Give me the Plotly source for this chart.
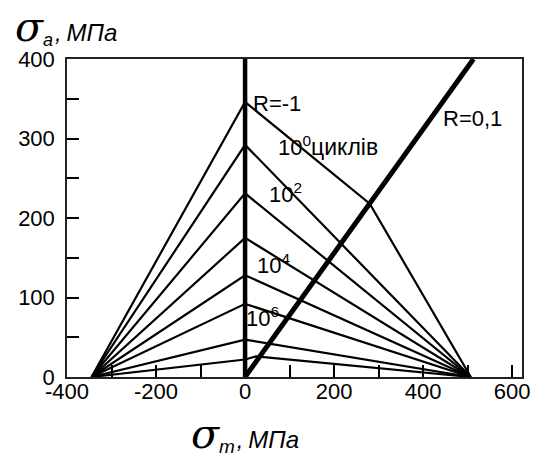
import plotly.graph_objects as go

# ---- data ----
left_zero = -345          # common left end of the thin lines (sigma_m, MPa)
right_zero = 507          # common right end of the thin lines
peaks = [346, 292, 231, 175, 128, 92, 47, 22]   # sigma_a at sigma_m = 0
# intermediate break points on the right branch (sigma_m, sigma_a) or None
kinks = [(280, 218), None, None, None, None, None, None, (25, 26)]

r_minus1_x = [0, 0]
r_minus1_y = [0, 400]
r_01_x = [0, 513]
r_01_y = [0, 400]

x_ticks = [-400, -200, 0, 200, 400, 600]
x_tick_text = ["-400", "-200", "0", "200", "400", "600"]
y_ticks = [0, 100, 200, 300, 400]
y_tick_text = ["0", "100", "200", "300", "400"]

fig = go.Figure()

for pk, kn in zip(peaks, kinks):
    xs = [left_zero, 0]
    ys = [0, pk]
    if kn is not None:
        xs.append(kn[0])
        ys.append(kn[1])
    xs.append(right_zero)
    ys.append(0)
    fig.add_trace(go.Scatter(x=xs, y=ys, mode="lines",
                             line=dict(color="black", width=2.2),
                             showlegend=False, hoverinfo="skip"))

fig.add_trace(go.Scatter(x=r_minus1_x, y=r_minus1_y, mode="lines",
                         line=dict(color="black", width=4.5),
                         showlegend=False, hoverinfo="skip", cliponaxis=False))
fig.add_trace(go.Scatter(x=r_01_x, y=r_01_y, mode="lines",
                         line=dict(color="black", width=5),
                         showlegend=False, hoverinfo="skip"))

tick_font = dict(family="Liberation Sans, Arial, sans-serif", size=22, color="black")
lab_font = dict(family="Liberation Sans, Arial, sans-serif", size=22, color="black")

# the page body adds an 8px margin, so the figure is drawn 8px smaller
fig.update_layout(
    width=531, height=449,
    margin=dict(l=59, r=17, t=51, b=80, autoexpand=False),
    paper_bgcolor="white", plot_bgcolor="white",
    xaxis=dict(range=[-400, 622], tickvals=x_ticks, ticktext=x_tick_text,
               ticks="inside", ticklen=12, automargin=False,
               tickwidth=1.5, tickcolor="black", showgrid=False, zeroline=False,
               showline=True, linecolor="#222", linewidth=1.5, mirror=True,
               tickfont=tick_font, ticklabelstandoff=-6,
               minor=dict(dtick=100, tick0=-400, ticks="inside", ticklen=12,
                          tickwidth=1.5, tickcolor="black", showgrid=False)),
    yaxis=dict(range=[0, 400], tickvals=y_ticks, ticktext=y_tick_text,
               ticks="inside", ticklen=12, automargin=False,
               tickwidth=1.5, tickcolor="black", showgrid=False, zeroline=False,
               showline=True, linecolor="#222", linewidth=1.5, mirror=True,
               tickfont=tick_font, ticklabelstandoff=6,
               minor=dict(dtick=50, tick0=0, ticks="inside", ticklen=12,
                          tickwidth=1.5, tickcolor="black", showgrid=False)),
)

ann = [
    ("R=-1", 14, 344),
    ("R=0,1", 439.8, 325.4),
    ("10<sup>0</sup><span style=\"font-size:23px\">циклів</span>", 69, 290),
    ("10<sup>2</sup>", 49, 231),
    ("10<sup>4</sup>", 23, 142),
    ("10<sup>6</sup>", -2.9, 76),
]
for t, x, y in ann:
    fig.add_annotation(text=t, x=x, y=y, xref="x", yref="y", showarrow=False,
                       xanchor="left", yanchor="middle", font=lab_font)

title_font = dict(family="Liberation Sans, Arial, sans-serif", size=24,
                  color="black", style="italic")
sig = "<span style=\"font-family:'DejaVu Serif';font-size:41px\">σ</span>"
sub_a = "<sub><span style=\"font-size:18px\">a</span></sub>"
sub_m = "<sub><span style=\"font-size:19px\">m</span></sub>"
fig.add_annotation(text=sig + sub_a + "\u200a,\u2009МПа", xref="paper", yref="paper",
                   x=(13 - 67)/455, y=(377 - 27)/318, xanchor="left", yanchor="middle",
                   showarrow=False, font=title_font)
fig.add_annotation(text=sig + sub_m + "\u200a,\u2009МПа", xref="paper", yref="paper",
                   x=(189 - 67)/455, y=(377 - 434)/318, xanchor="left", yanchor="middle",
                   showarrow=False, font=title_font)

fig.write_html("out.html")
